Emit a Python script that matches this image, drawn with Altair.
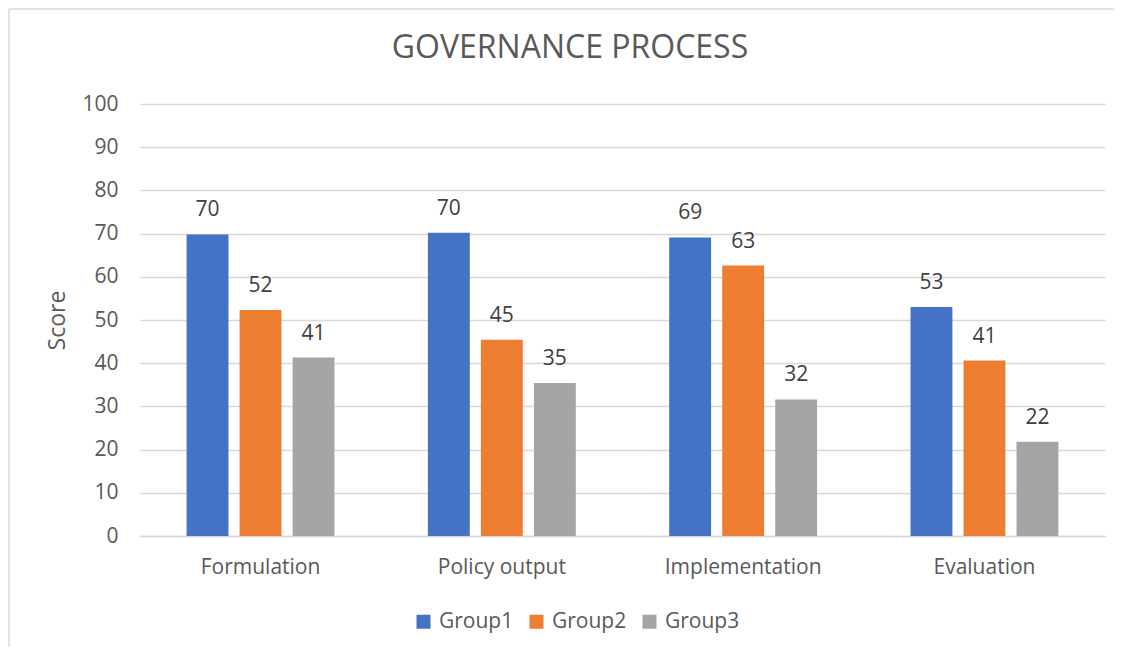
import altair as alt
import pandas as pd

title_text = "GOVERNANCE PROCESS"
categories = ["Formulation", "Policy output", "Implementation", "Evaluation"]
groups = ["Group1", "Group2", "Group3"]
group1 = [69.8, 70.2, 69.1, 53.0]
group2 = [52.3, 45.4, 62.6, 40.6]
group3 = [41.3, 35.4, 31.6, 21.8]
colors = ["#4472C4", "#ED7D31", "#A5A5A5"]

rows = []
for i, c in enumerate(categories):
    for g, vals in zip(groups, [group1, group2, group3]):
        rows.append({"Category": c, "Group": g, "Score": vals[i]})
df = pd.DataFrame(rows)
one = pd.DataFrame({"t": [title_text]})

FONT = "Open Sans"
GRAY = "#595959"
FS = 21

x = alt.X("Category:N", sort=categories,
          scale=alt.Scale(paddingInner=0.341, paddingOuter=0.17),
          axis=alt.Axis(title=None, labelAngle=0, labelFontSize=FS, labelColor=GRAY,
                        labelFont=FONT, ticks=False, labelPadding=20,
                        domainColor="#D9D9D9", domainWidth=1.5))
xoff = alt.XOffset("Group:N", sort=groups,
                   scale=alt.Scale(paddingInner=0.21, paddingOuter=0.105))
y = alt.Y("Score:Q", scale=alt.Scale(domain=[0, 100]),
          axis=alt.Axis(values=list(range(0, 101, 10)), title="Score", titleFontSize=23,
                        titleFont=FONT, titleColor=GRAY, titleFontWeight="normal",
                        titlePadding=12, labelFontSize=FS, labelFont=FONT, labelColor=GRAY,
                        labelPadding=22, ticks=False, domain=False,
                        gridColor="#D9D9D9", gridWidth=1.5))
color = alt.Color("Group:N", sort=groups,
                  scale=alt.Scale(domain=groups, range=colors),
                  legend=alt.Legend(title=None, orient="none", direction="horizontal",
                                    legendX=273, legendY=507, symbolType="square",
                                    symbolSize=196, symbolStrokeWidth=0, labelFontSize=FS,
                                    labelFont=FONT, labelColor=GRAY, columnPadding=12,
                                    labelOffset=5))

bars = alt.Chart(df).mark_bar().encode(x=x, xOffset=xoff, y=y, color=color)
labels = alt.Chart(df).mark_text(fontSize=FS, font=FONT, color="#404040",
                                 baseline="alphabetic", dy=-18).encode(
    x=alt.X("Category:N", sort=categories),
    xOffset=alt.XOffset("Group:N", sort=groups),
    y="Score:Q",
    text=alt.Text("Score:Q", format=".0f"),
)

frame_left = alt.Chart(one).mark_rule(color="#D9D9D9", strokeWidth=1.5).encode(
    x=alt.value(-131), y=alt.value(-95), y2=alt.value(560))
frame_top = alt.Chart(one).mark_rule(color="#D9D9D9", strokeWidth=1.5).encode(
    x=alt.value(-131), x2=alt.value(990), y=alt.value(-95))
title = alt.Chart(one).mark_text(fontSize=32, font=FONT, color=GRAY, align="center",
                                 baseline="middle").encode(
    x=alt.value(430), y=alt.value(-56), text="t:N")

chart = alt.layer(frame_left, frame_top, bars, labels, title).properties(
    width=965, height=432,
    autosize=alt.AutoSizeParams(type="none"),
    padding={"left": 132, "top": 96, "right": 9, "bottom": 111},
    background="white",
).configure_view(stroke=None)

chart.save("out.html", embed_options={"renderer": "svg", "actions": False})
